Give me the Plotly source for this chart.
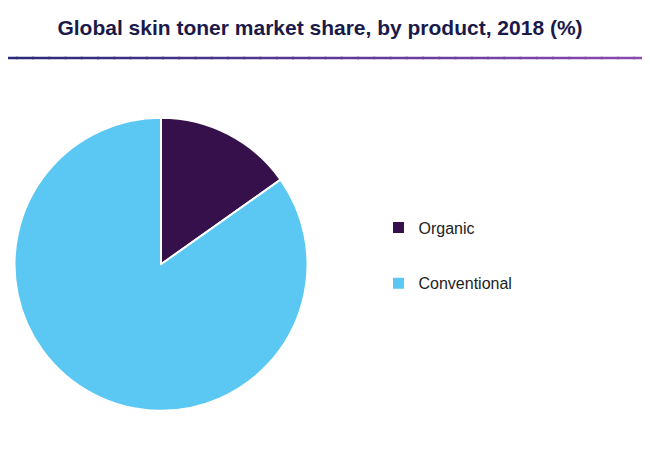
import plotly.graph_objects as go

products = ["Organic", "Conventional"]
shares = [15.2, 84.8]
colors = ["#35104a", "#5bc8f3"]

fig = go.Figure()
fig.add_trace(go.Pie(
    labels=products, values=shares, sort=False, direction="clockwise", rotation=0,
    marker=dict(colors=colors, line=dict(color="white", width=2)),
    textinfo="none", hoverinfo="label+value", showlegend=False,
    domain=dict(x=[6 / 650, 300 / 650], y=[0.105, 0.756]),
))

# legend entries as square markers
for name, c in zip(products, colors):
    fig.add_trace(go.Scatter(
        x=[None], y=[None], mode="markers", name=name, legendgroup=name,
        marker=dict(symbol="square", size=11, color=c),
    ))

# gradient rule under the title
n = 40
for i in range(n):
    t = i / (n - 1)
    r = int(0x2a + (0x8a - 0x2a) * t)
    g = int(0x2a + (0x4a - 0x2a) * t)
    b = int(0x7a + (0xb0 - 0x7a) * t)
    fig.add_shape(type="line", xref="paper", yref="paper",
                  x0=i / n - 0.013, x1=(i + 1) / n - 0.01, y0=1 - 50 / 450, y1=1 - 50 / 450,
                  line=dict(color=f"rgb({r},{g},{b})", width=2.5))

fig.update_layout(
    width=650, height=450,
    margin=dict(l=0, r=0, t=0, b=0),
    paper_bgcolor="white", plot_bgcolor="white",
    font=dict(family="Arial, Liberation Sans, sans-serif", color="#222"),
    title=dict(text="<b>Global skin toner market share, by product, 2018 (%)</b>",
               x=0.48, xanchor="center", y=1 - 20 / 450, yanchor="middle",
               font=dict(size=21, color="#1a1a4a")),
    xaxis=dict(visible=False), yaxis=dict(visible=False),
    legend=dict(x=0.57, y=0.45, xanchor="left", yanchor="middle",
                font=dict(size=16, color="#222"), tracegroupgap=32,
                itemclick=False),
)

fig.write_html("out.html")
